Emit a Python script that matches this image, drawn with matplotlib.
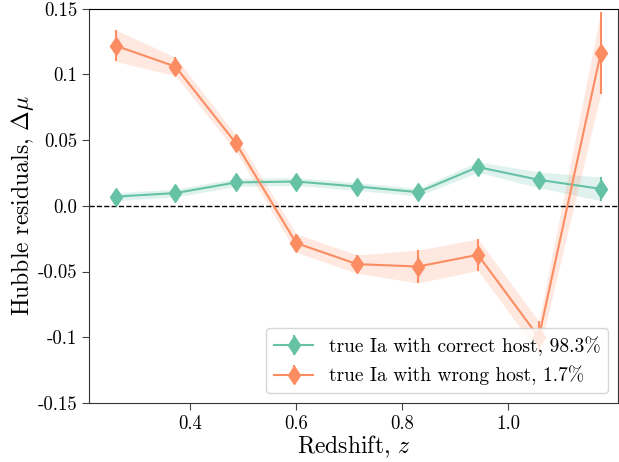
import numpy as np
import matplotlib
matplotlib.use("Agg")
import matplotlib.pyplot as plt

plt.rcParams['font.family'] = 'cmr10'
plt.rcParams['mathtext.fontset'] = 'cm'
plt.rcParams['axes.unicode_minus'] = False
plt.rcParams['axes.formatter.use_mathtext'] = True

# binned redshift centres
z = [0.259, 0.372, 0.486, 0.6, 0.715, 0.83, 0.943, 1.058, 1.175]

# true Ia with correct host
mu_good = [0.007, 0.0097, 0.0178, 0.0185, 0.0147, 0.0104, 0.0295, 0.0198, 0.0129]
err_good = [0.003, 0.003, 0.003, 0.003, 0.003, 0.003, 0.004, 0.006, 0.009]

# true Ia with wrong host
mu_bad = [0.1219, 0.106, 0.0477, -0.0284, -0.0444, -0.0462, -0.0373, -0.1, 0.1165]
err_bad = [0.012, 0.007, 0.006, 0.007, 0.007, 0.0125, 0.012, 0.012, 0.031]

labels = ['true Ia with correct host, 98.3%', 'true Ia with wrong host, 1.7%']
ytick_vals = [-0.15, -0.1, -0.05, 0.0, 0.05, 0.1, 0.15]
ytick_labels = ['-0.15', '-0.1', '-0.05', '0.0', '0.05', '0.1', '0.15']
xtick_vals = [0.4, 0.6, 0.8, 1.0]

green = '#66c2a5'
orange = '#fc8d62'

fig = plt.figure(figsize=(6.19, 4.62), dpi=100)
ax = fig.add_axes([0.144, 0.128, 0.854, 0.853])

for mu, err, col, lab in [(mu_good, err_good, green, labels[0]),
                          (mu_bad, err_bad, orange, labels[1])]:
    mu = np.array(mu)
    err = np.array(err)
    ax.fill_between(z, mu - err, mu + err, color=col, alpha=0.2, lw=0)
    ax.errorbar(z, mu, yerr=err, color=col, marker='d', markersize=9.5,
                lw=1.5, elinewidth=1.5, label=lab)

ax.axhline(0, color='black', ls='--', lw=1)

ax.set_xlim(0.209, 1.207)
ax.set_ylim(-0.15, 0.15)
ax.set_yticks(ytick_vals)
ax.set_yticklabels(ytick_labels)
ax.set_xticks(xtick_vals)
ax.set_xticklabels(['%.1f' % v for v in xtick_vals])
ax.tick_params(labelsize=13.5, length=5, color='#444444')
for s in ax.spines.values():
    s.set_color('#333333')
ax.spines['top'].set_color('black')

ax.set_xlabel('Redshift, $z$', fontsize=17, labelpad=1)
ax.set_ylabel('Hubble residuals, $\\Delta\\mu$', fontsize=17, labelpad=1)

ax.legend(loc='lower right', fontsize=14, framealpha=0.8)

fig.savefig('out.png', dpi=100)
